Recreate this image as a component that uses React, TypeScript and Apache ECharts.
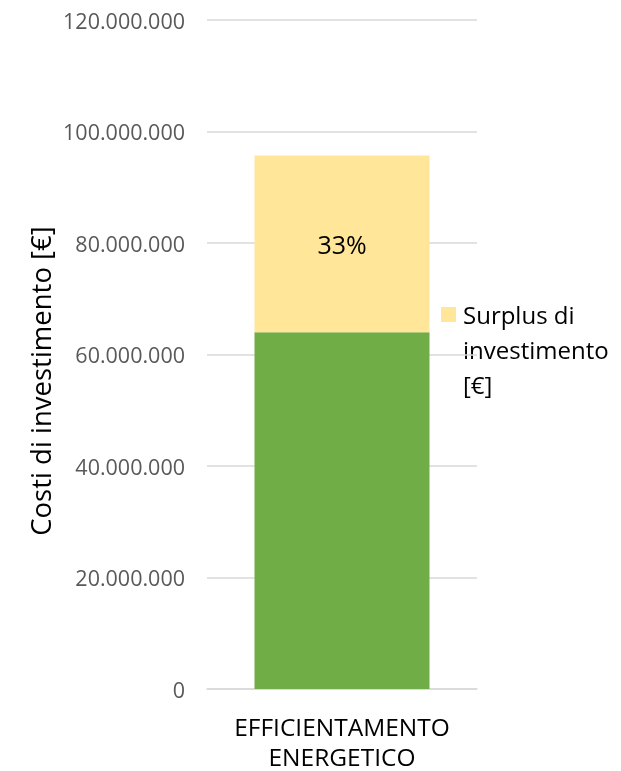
import React, { useEffect, useRef } from "react";
import * as echarts from "echarts";

const categories = ["EFFICIENTAMENTO\nENERGETICO"];
const baseCost = [64000000];
const surplus = [31700000];
const surplusLabels = ["33%"];
const yTicks = { min: 0, max: 120000000, interval: 20000000 };
const FONT = "'Open Sans', sans-serif";

function fmt(v: number): string {
  return String(Math.round(v)).replace(/\B(?=(\d{3})+(?!\d))/g, ".");
}

export default function App() {
  const ref = useRef<HTMLDivElement>(null);
  useEffect(() => {
    if (!ref.current) return;
    const chart = echarts.init(ref.current, null, { renderer: "svg" });
    chart.setOption({
      animation: false,
      textStyle: { fontFamily: FONT },
      grid: { left: 207, right: 144, top: 20, bottom: 81 },
      xAxis: {
        type: "category",
        data: categories,
        axisLine: { lineStyle: { color: "#D9D9D9", width: 1.5 } },
        axisTick: { show: false },
        axisLabel: {
          color: "#000",
          fontSize: 24.5,
          lineHeight: 30,
          margin: 22,
          fontFamily: FONT,
        },
      },
      yAxis: {
        type: "value",
        min: yTicks.min,
        max: yTicks.max,
        interval: yTicks.interval,
        axisLine: { show: false },
        axisTick: { show: false },
        splitLine: { lineStyle: { color: "#D9D9D9", width: 1.5 } },
        axisLabel: {
          color: "#595959",
          fontSize: 21.5,
          margin: 22,
          fontFamily: FONT,
          formatter: (v: number) => fmt(v),
        },
      },
      series: [
        {
          name: "Costi di investimento",
          type: "bar",
          stack: "tot",
          barWidth: 175,
          data: baseCost,
          itemStyle: { color: "#70AD47" },
        },
        {
          name: "Surplus di investimento [€]",
          type: "bar",
          stack: "tot",
          barWidth: 175,
          data: surplus,
          itemStyle: { color: "#FFE699" },
          label: {
            show: true,
            position: "inside",
            color: "#000",
            fontSize: 25,
            fontFamily: FONT,
            formatter: (p: any) => surplusLabels[p.dataIndex],
          },
        },
      ],
      graphic: [
        {
          type: "text",
          x: 40,
          y: 381,
          rotation: Math.PI / 2,
          style: {
            text: "Costi di investimento [€]",
            fontSize: 27.5,
            fontFamily: FONT,
            fill: "#000",
            align: "center",
            verticalAlign: "middle",
          },
        },
        {
          type: "rect",
          shape: { x: 441, y: 307, width: 15, height: 15 },
          style: { fill: "#FFE699" },
        },
        {
          type: "text",
          x: 463,
          y: 297,
          style: {
            text: "Surplus di\ninvestimento\n[€]",
            fontSize: 24,
            lineHeight: 35,
            fontFamily: FONT,
            fill: "#000",
            align: "left",
            verticalAlign: "top",
          },
        },
      ],
    });
    return () => chart.dispose();
  }, []);
  return (
    <div
      ref={ref}
      style={{ position: "fixed", left: 0, top: 0, width: 621, height: 771 }}
    />
  );
}
